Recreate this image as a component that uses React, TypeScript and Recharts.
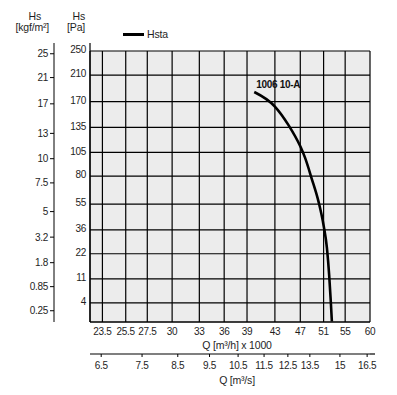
import {
  ComposedChart, Line, XAxis, YAxis, CartesianGrid, Legend, LabelList,
} from "recharts";

// fan curve 1006 10-A, static pressure vs flow
const flowM3h = [40.0, 43.0, 45.1, 47.0, 47.8, 48.9, 50.1, 51.0, 51.6, 52.0, 52.3, 52.5];
const pressurePa = [184, 163, 138, 112, 99, 78, 57, 39, 25, 12.5, 4.3, 0.95];

const paTicks = [4, 11, 22, 36, 55, 80, 105, 135, 170, 210, 250];
const kgfTicks = [0.25, 0.85, 1.8, 3.2, 5, 7.5, 10, 13, 17, 21, 25];
const qTicks = [23.5, 25.5, 27.5, 30, 33, 36, 39, 43, 47, 51, 55, 60];
const qsTicks = [6.5, 7.5, 8.5, 9.5, 10.5, 11.5, 12.5, 13.5, 15, 16.5];

const seriesName = "Hsta";
const curveName = "1006 10-A";

// m3/s = m3/h*1000/3600, kgf/m2 = Pa/9.81
const rows = flowM3h.map((q, i) => ({ q, qs: q / 3.6, pa: pressurePa[i], kgf: pressurePa[i] / 9.81 }));

// axis ids: recharts stacks left axes by id, lower id sits next to the plot
const PA = 0;
const KGF = 1;

const FONT = "'Liberation Sans', Arial, sans-serif";
const TXT = "#1e1e1e";
const tickText = { fontSize: 10, fontFamily: FONT, fill: TXT, letterSpacing: -0.3 };

const PaTick = (p: any) => (
  <text x={p.x} y={p.y - 1.5} dy="0.36em" textAnchor="end" {...tickText}>
    {p.payload.value}
  </text>
);

const KgfTick = (p: any) => (
  <text x={p.x} y={p.y} dy="0.36em" textAnchor="end" {...tickText}>
    {p.payload.value}
  </text>
);

const QTick = (p: any) => (
  <text x={p.x} y={p.y + 12.5} textAnchor="middle" {...tickText}>
    {p.payload.value}
  </text>
);

const QsTick = (p: any) => (
  <text x={p.x} y={p.y + 12} textAnchor="middle" {...tickText}>
    {p.payload.value}
  </text>
);

const CurveLabel = (p: any) =>
  p.index === 0 ? (
    <text x={p.x + 2} y={p.y - 4} fontSize={10} fontWeight="bold" fontFamily={FONT} letterSpacing={-0.3} fill="#111">
      {curveName}
    </text>
  ) : null;

const LegendBox = () => (
  <div style={{ display: "flex", alignItems: "center", fontFamily: FONT, fontSize: 10.5, letterSpacing: -0.2, color: TXT }}>
    <span style={{ display: "inline-block", width: 21, height: 3, background: "#000", marginRight: 3 }} />
    {seriesName}
  </div>
);

export default function App() {
  return (
    <div style={{ position: "absolute", left: 0, top: 0, width: 397, height: 395, background: "#fff" }}>
      <ComposedChart width={397} height={395} data={rows} margin={{ top: 51, right: 27, bottom: 5, left: 4 }}>
        <CartesianGrid xAxisId="q" yAxisId={PA} fill="#ececec" stroke="#000" strokeWidth={1.2} strokeOpacity={1} />
        <XAxis
          xAxisId="q" dataKey="q" type="number" scale="log" domain={[22.5, 60]} ticks={qTicks}
          allowDataOverflow height={32} tickSize={0} tickMargin={0} tick={QTick}
          axisLine={{ stroke: "#000", strokeWidth: 1.2 }} tickLine={false} interval={0}
        />
        <XAxis
          xAxisId="qs" dataKey="qs" type="number" scale="log" domain={[22.5 / 3.6, 60 / 3.6]} ticks={qsTicks}
          allowDataOverflow height={36} tickSize={3} tickMargin={0} tick={QsTick}
          axisLine={{ stroke: "#000", strokeWidth: 1.2 }} tickLine={{ stroke: "#000" }} interval={0}
        />
        <YAxis
          yAxisId={PA} type="number" scale="sqrt" domain={[0.9, 250]} ticks={paTicks}
          allowDataOverflow width={36} tickSize={0} tickMargin={4} tick={PaTick}
          axisLine={{ stroke: "#000", strokeWidth: 1.2 }} tickLine={false} interval={0}
        />
        <YAxis
          yAxisId={KGF} dataKey="kgf" type="number" scale="sqrt" domain={[0.9 / 9.81, 250 / 9.81]} ticks={kgfTicks}
          allowDataOverflow width={50} tickSize={4} tickMargin={2} tick={KgfTick}
          axisLine={{ stroke: "#000", strokeWidth: 1 }} tickLine={{ stroke: "#000" }} interval={0}
        />
        <Legend
          layout="horizontal" verticalAlign="middle" align="center"
          wrapperStyle={{ left: 123, top: 28, width: 80, height: 16 }}
          content={LegendBox}
        />
        <Line
          xAxisId="q" yAxisId={PA} dataKey="pa" type="monotone" stroke="#000" strokeWidth={2.6}
          dot={false} activeDot={false} isAnimationActive={false} name={seriesName}
        >
          <LabelList dataKey="pa" content={CurveLabel} />
        </Line>
        {/* axis lines running above the plot, titles */}
        <line x1={54} y1={43} x2={54} y2={51} stroke="#000" strokeWidth={1} />
        <line x1={90} y1={43} x2={90} y2={51} stroke="#000" strokeWidth={1.2} />
        <line x1={370} y1={354} x2={375} y2={354} stroke="#000" strokeWidth={1.2} />
        <g fontFamily={FONT} fontSize={10.5} fill={TXT} letterSpacing={-0.2}>
          <text x={41} y={20} textAnchor="end">Hs</text>
          <text x={49} y={31} textAnchor="end">[kgf/m²]</text>
          <text x={85} y={20} textAnchor="end">Hs</text>
          <text x={85} y={31} textAnchor="end">[Pa]</text>
          <text x={237} y={349} textAnchor="middle">Q [m³/h] x 1000</text>
          <text x={237} y={384} textAnchor="middle">Q [m³/s]</text>
        </g>
      </ComposedChart>
    </div>
  );
}
